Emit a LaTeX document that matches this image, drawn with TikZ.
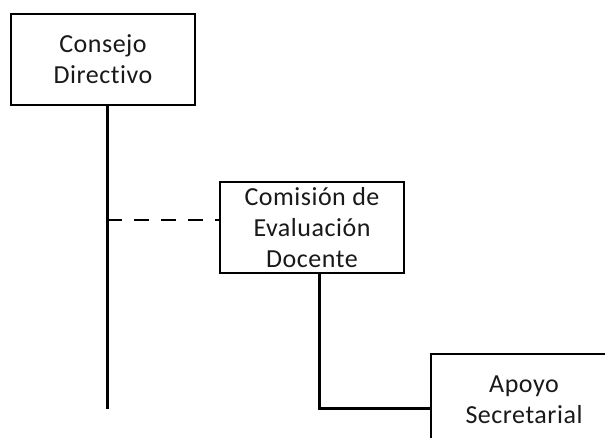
\documentclass[tikz,border=0pt]{standalone}
\usepackage{fontspec}
\setmainfont{Carlito}[Ligatures=NoCommon, LetterSpace=2]
\begin{document}
\begin{tikzpicture}[x=1pt,y=-1pt,
  orgbox/.style={draw=black, line width=1.5pt, fill=white, rectangle, align=center,
    inner sep=0pt, font=\fontsize{26}{31}\selectfont, text=black!90},
  thickline/.style={line width=3pt, draw=black},
  dashline/.style={line width=2.5pt, draw=black, dash pattern=on 15pt off 12pt}]
\useasboundingbox (0,0) rectangle (605,438);
\clip (0,0) rectangle (605,438);
\fill[white] (0,0) rectangle (605,438);
% boxes
\node[orgbox, minimum width=184pt, minimum height=91pt] (cons) at (103,59.5) {Consejo\\Directivo};
\node[orgbox, minimum width=184pt, minimum height=91pt] (com) at (312,227.5) {Comisión de\\Evaluación\\Docente};
\node[orgbox, minimum width=186pt, minimum height=92pt] (apoyo) at (524,400) {Apoyo\\Secretarial};
% coordinates
\coordinate (trunktop) at (107,105);
\coordinate (trunkend) at (107,409);
\coordinate (dashstart) at (107,220);
\coordinate (corner) at (319,408);
\coordinate (apoyoin) at (431,408);
% connectors
\draw[thickline] (trunktop) -- (trunkend);
\draw[dashline] (dashstart) -- (com.west |- dashstart);
\draw[thickline, line join=miter] (com.south -| corner) -- (corner) -- (apoyoin);
\end{tikzpicture}
\end{document}
